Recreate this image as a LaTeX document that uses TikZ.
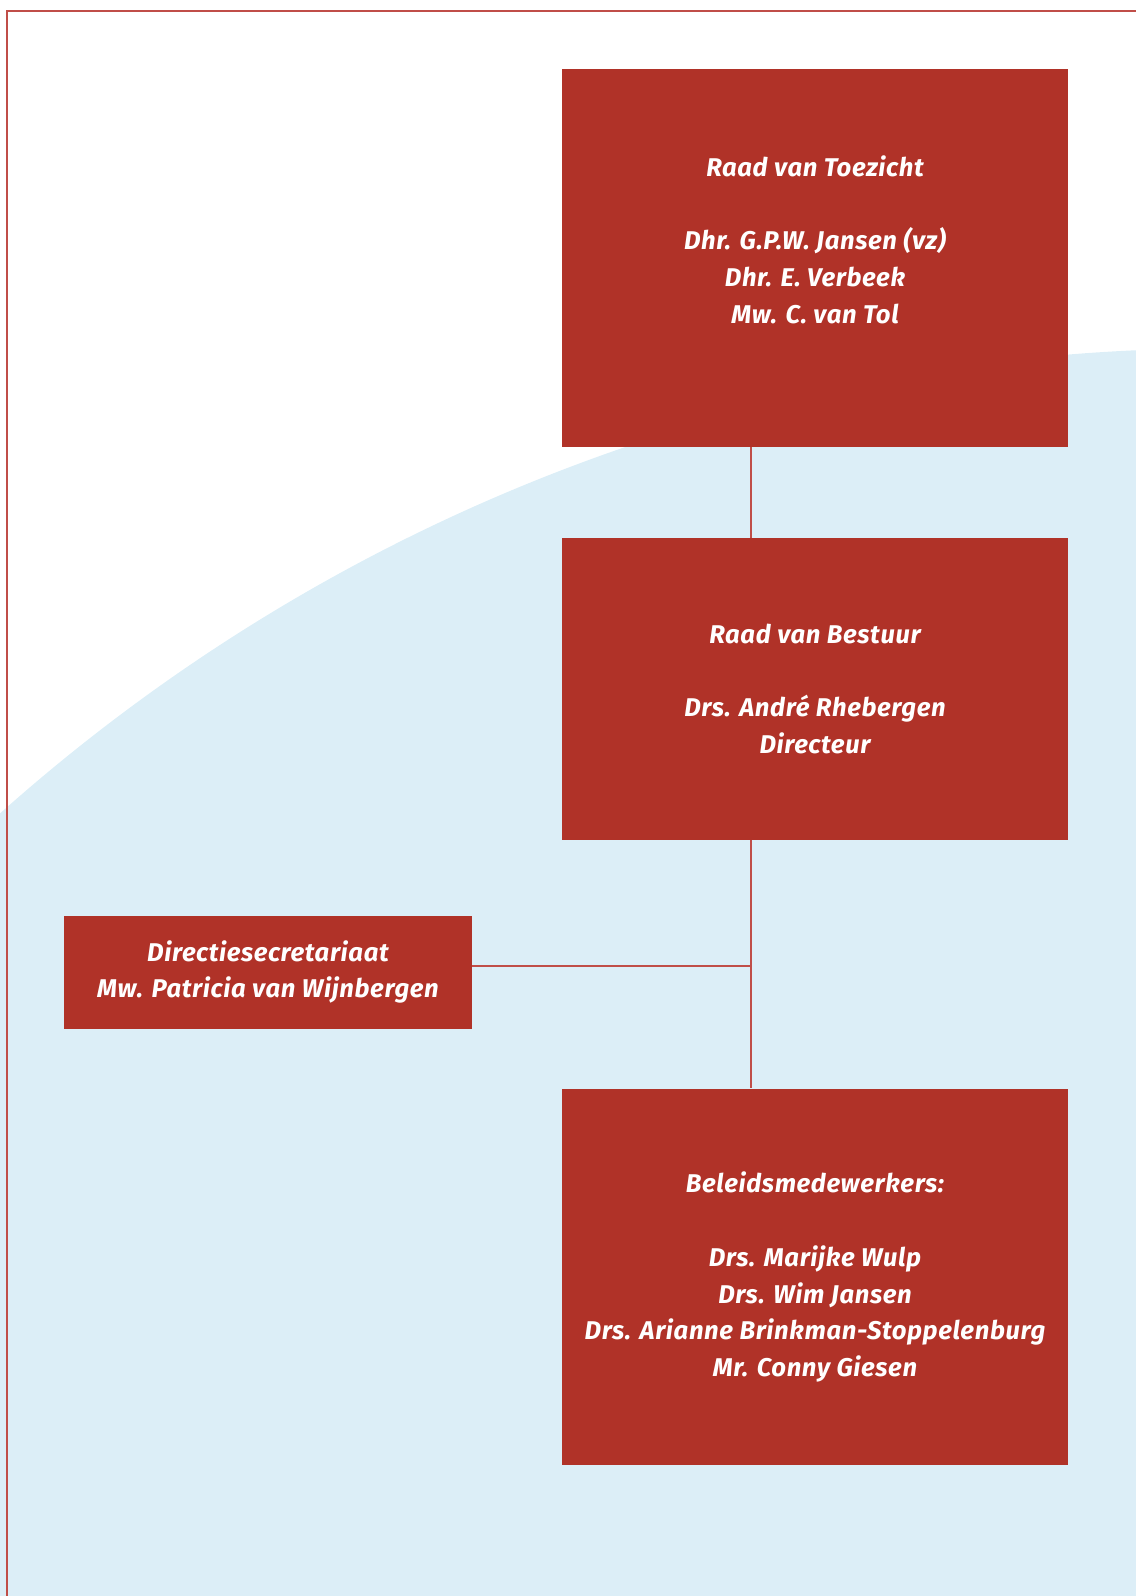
\documentclass[tikz,border=0pt]{standalone}
\usepackage{fontspec}
\setmainfont{Fira Sans}[LetterSpace=2.5]
\usetikzlibrary{positioning,calc}
\definecolor{colorBOX}{RGB}{176,50,40}
\definecolor{colorLINE}{RGB}{192,78,72}
\definecolor{colorBG}{RGB}{220,238,247}
\tikzset{
   every path/.style={>=stealth},
   orgbox/.style={rectangle,fill=colorBOX,text=white,align=center,inner sep=0pt,
      minimum width=10.12cm,font=\fontsize{14.6}{21}\selectfont\bfseries\itshape},
   link/.style={-,color=colorLINE,line width=1.1pt},
   frame/.style={-,color=colorLINE,line width=1.2pt},
}

\begin{document}
\begin{tikzpicture}[x=0.02cm,y=-0.02cm]
      \useasboundingbox (0,0) rectangle (1136,1596);
      \begin{scope}
        \clip (0,0) rectangle (1136,1596);
        \fill[colorBG] (1220,2181) circle[radius=36.66cm];
      \end{scope}
      \draw[frame] (7,1596) -- (7,11) -- (1136,11);
      \coordinate (spine) at (751,0);
      \coordinate (hub) at (751,966);
      \node[orgbox,minimum height=7.56cm] (rvt) at (815,258)
        {Raad van Toezicht\\[21pt]Dhr. G.P.W. Jansen (vz)\\Dhr. E. Verbeek\\Mw. C. van Tol\\ \mbox{}};
      \node[orgbox,minimum height=6.04cm] (rvb) at (815,689)
        {Raad van Bestuur\\[21pt]Drs. Andr\'e Rhebergen\\Directeur};
      \node[orgbox,minimum width=8.16cm,minimum height=2.26cm] (dir) at (268,972)
        {Directiesecretariaat\\Mw. Patricia van Wijnbergen};
      \node[orgbox,minimum height=7.54cm] (bmw) at (815,1277)
        {Beleidsmedewerkers:\\[21pt]Drs. Marijke Wulp\\Drs. Wim Jansen\\Drs. Arianne Brinkman-Stoppelenburg\\Mr. Conny Giesen};
      \draw[link] (rvt.south -| spine) -- (rvb.north -| spine);
      \draw[link] (rvb.south -| spine) -- (bmw.north -| spine);
      \draw[link] (dir.east |- hub) -- (hub);
    \end{tikzpicture}
\end{document}
